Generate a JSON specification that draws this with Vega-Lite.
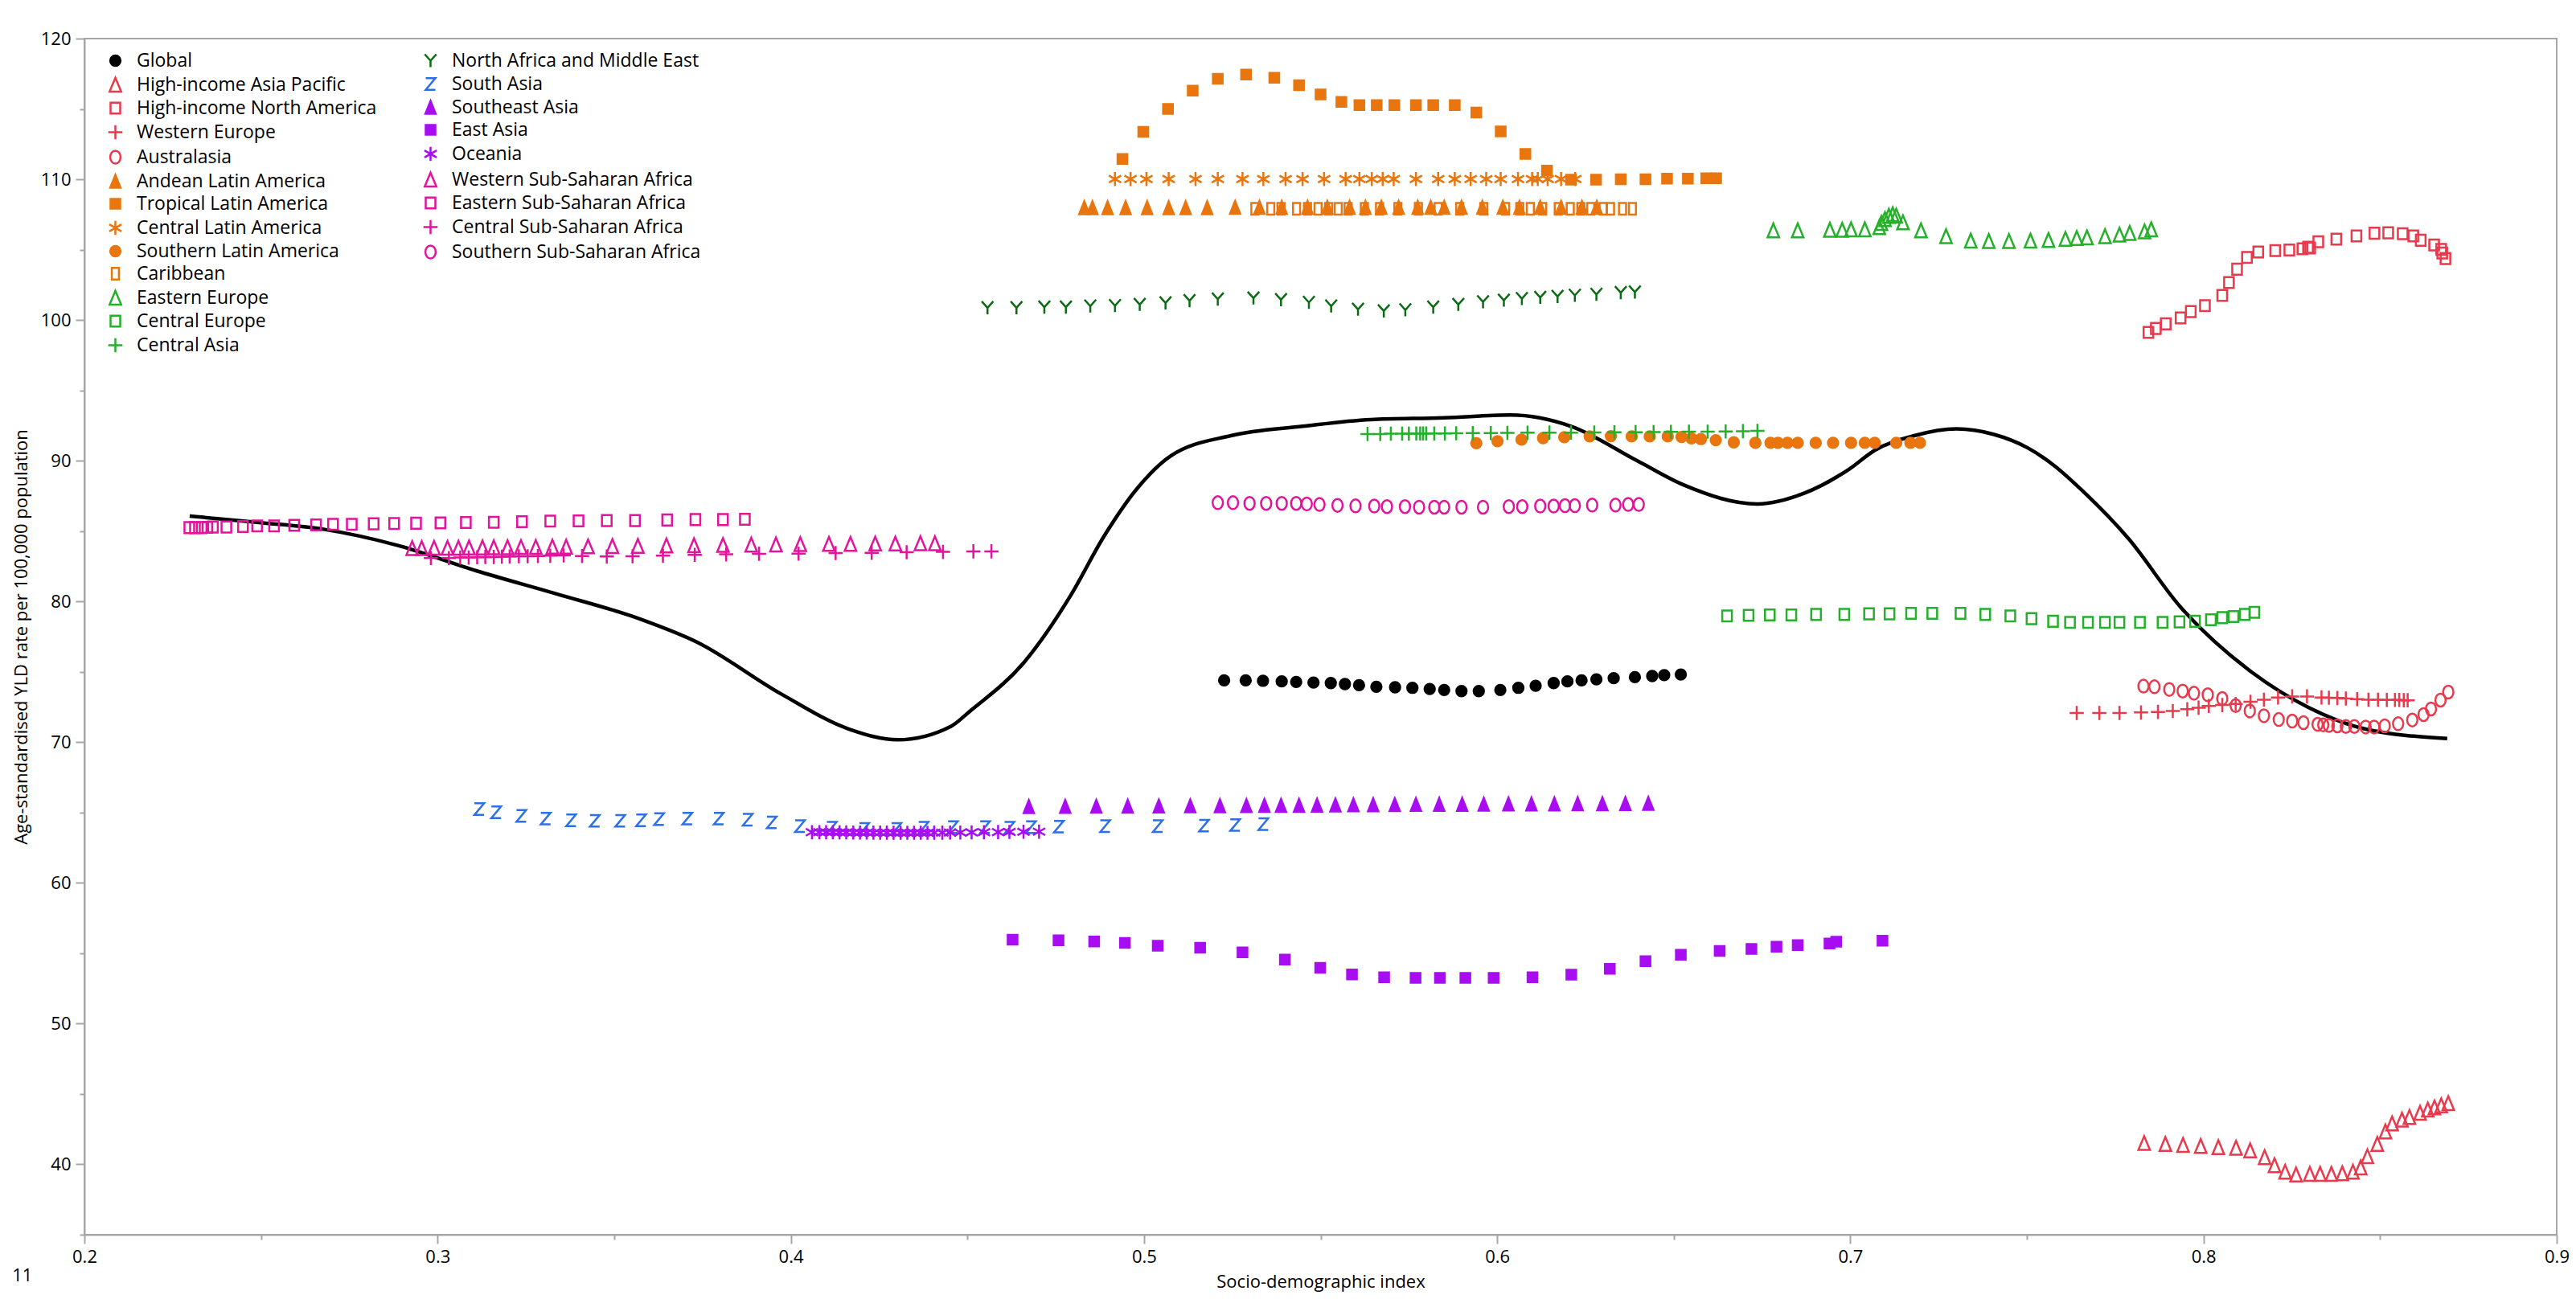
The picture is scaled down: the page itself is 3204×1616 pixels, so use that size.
{
"$schema":"https://vega.github.io/schema/vega-lite/v6.json",
"width":3075,"height":1488,
"autosize":{"type":"none"},
"padding":{"left":105,"top":48,"right":24,"bottom":80},
"title":{"text":"11","orient":"bottom","anchor":"start","frame":"bounds","fontSize":22,"font":"Open Sans","fontWeight":"normal","color":"#000000","offset":-28},
"config":{
 "view":{"stroke":"#a6a6a6","strokeWidth":2},
 "font":"Open Sans",
 "legend":{"orient":"none","padding":0,"labelFontSize":23,"labelFont":"Open Sans","labelColor":"#000000","symbolSize":256,"symbolStrokeWidth":2.5,"rowPadding":3,"labelOffset":15,"symbolOpacity":1,"labelLimit":500}
},
"datasets":{
"curve":[
{"sdi":0.2298,"yld":86.07},{"sdi":0.25,"yld":85.6},{"sdi":0.268,"yld":85.12},{"sdi":0.2888,"yld":83.98},{"sdi":0.3111,"yld":82.17},{"sdi":0.3335,"yld":80.55},{"sdi":0.3575,"yld":78.74},{"sdi":0.3734,"yld":77.12},{"sdi":0.3974,"yld":73.41},{"sdi":0.4165,"yld":70.93},{"sdi":0.4303,"yld":70.17},{"sdi":0.4453,"yld":71.12},{"sdi":0.451,"yld":72.26},{"sdi":0.4661,"yld":75.69},{"sdi":0.4793,"yld":80.45},{"sdi":0.4887,"yld":84.64},{"sdi":0.4982,"yld":88.07},{"sdi":0.5076,"yld":90.35},{"sdi":0.5246,"yld":91.78},{"sdi":0.545,"yld":92.45},{"sdi":0.5642,"yld":92.93},{"sdi":0.585,"yld":93.05},{"sdi":0.6039,"yld":93.25},{"sdi":0.6209,"yld":92.45},{"sdi":0.6398,"yld":89.98},{"sdi":0.653,"yld":88.26},{"sdi":0.6737,"yld":86.93},{"sdi":0.6869,"yld":87.69},{"sdi":0.6997,"yld":89.41},{"sdi":0.7069,"yld":90.74},{"sdi":0.7181,"yld":91.78},{"sdi":0.7301,"yld":92.26},{"sdi":0.7405,"yld":91.88},{"sdi":0.7501,"yld":90.93},{"sdi":0.758,"yld":89.6},{"sdi":0.766,"yld":87.8},{"sdi":0.7788,"yld":84.45},{"sdi":0.7932,"yld":79.69},{"sdi":0.8139,"yld":74.93},{"sdi":0.8299,"yld":72.45},{"sdi":0.8459,"yld":70.93},{"sdi":0.869,"yld":70.26}
],
"pts":[
{"region":"Global","sdi":0.5227,"yld":74.39},{"region":"Global","sdi":0.5288,"yld":74.39},{"region":"Global","sdi":0.5337,"yld":74.36},{"region":"Global","sdi":0.539,"yld":74.32},{"region":"Global","sdi":0.5431,"yld":74.28},{"region":"Global","sdi":0.548,"yld":74.24},{"region":"Global","sdi":0.5529,"yld":74.2},{"region":"Global","sdi":0.5569,"yld":74.13},{"region":"Global","sdi":0.5609,"yld":74.05},{"region":"Global","sdi":0.5658,"yld":73.94},{"region":"Global","sdi":0.5711,"yld":73.9},{"region":"Global","sdi":0.576,"yld":73.86},{"region":"Global","sdi":0.5809,"yld":73.78},{"region":"Global","sdi":0.585,"yld":73.71},{"region":"Global","sdi":0.5899,"yld":73.63},{"region":"Global","sdi":0.5948,"yld":73.63},{"region":"Global","sdi":0.6009,"yld":73.71},{"region":"Global","sdi":0.606,"yld":73.86},{"region":"Global","sdi":0.6109,"yld":74.01},{"region":"Global","sdi":0.616,"yld":74.2},{"region":"Global","sdi":0.6199,"yld":74.32},{"region":"Global","sdi":0.6239,"yld":74.39},{"region":"Global","sdi":0.6281,"yld":74.47},{"region":"Global","sdi":0.633,"yld":74.55},{"region":"Global","sdi":0.639,"yld":74.62},{"region":"Global","sdi":0.6439,"yld":74.7},{"region":"Global","sdi":0.6473,"yld":74.77},{"region":"Global","sdi":0.652,"yld":74.81},
{"region":"High-income Asia Pacific","sdi":0.7832,"yld":41.5},{"region":"High-income Asia Pacific","sdi":0.7892,"yld":41.44},{"region":"High-income Asia Pacific","sdi":0.7942,"yld":41.37},{"region":"High-income Asia Pacific","sdi":0.7992,"yld":41.29},{"region":"High-income Asia Pacific","sdi":0.8042,"yld":41.21},{"region":"High-income Asia Pacific","sdi":0.8092,"yld":41.17},{"region":"High-income Asia Pacific","sdi":0.8132,"yld":40.98},{"region":"High-income Asia Pacific","sdi":0.8173,"yld":40.49},{"region":"High-income Asia Pacific","sdi":0.8201,"yld":39.92},{"region":"High-income Asia Pacific","sdi":0.8231,"yld":39.46},{"region":"High-income Asia Pacific","sdi":0.8262,"yld":39.27},{"region":"High-income Asia Pacific","sdi":0.8301,"yld":39.31},{"region":"High-income Asia Pacific","sdi":0.833,"yld":39.31},{"region":"High-income Asia Pacific","sdi":0.8362,"yld":39.31},{"region":"High-income Asia Pacific","sdi":0.8393,"yld":39.35},{"region":"High-income Asia Pacific","sdi":0.8423,"yld":39.46},{"region":"High-income Asia Pacific","sdi":0.8445,"yld":39.77},{"region":"High-income Asia Pacific","sdi":0.8464,"yld":40.56},{"region":"High-income Asia Pacific","sdi":0.8492,"yld":41.44},{"region":"High-income Asia Pacific","sdi":0.8515,"yld":42.32},{"region":"High-income Asia Pacific","sdi":0.8534,"yld":42.89},{"region":"High-income Asia Pacific","sdi":0.8562,"yld":43.16},{"region":"High-income Asia Pacific","sdi":0.8583,"yld":43.35},{"region":"High-income Asia Pacific","sdi":0.8613,"yld":43.65},{"region":"High-income Asia Pacific","sdi":0.8635,"yld":43.88},{"region":"High-income Asia Pacific","sdi":0.8654,"yld":44.03},{"region":"High-income Asia Pacific","sdi":0.8673,"yld":44.18},{"region":"High-income Asia Pacific","sdi":0.8693,"yld":44.34},
{"region":"High-income North America","sdi":0.7844,"yld":99.12},{"region":"High-income North America","sdi":0.7865,"yld":99.4},{"region":"High-income North America","sdi":0.7893,"yld":99.73},{"region":"High-income North America","sdi":0.7935,"yld":100.15},{"region":"High-income North America","sdi":0.7964,"yld":100.6},{"region":"High-income North America","sdi":0.8004,"yld":101.02},{"region":"High-income North America","sdi":0.8053,"yld":101.75},{"region":"High-income North America","sdi":0.8072,"yld":102.66},{"region":"High-income North America","sdi":0.8095,"yld":103.61},{"region":"High-income North America","sdi":0.8123,"yld":104.45},{"region":"High-income North America","sdi":0.8155,"yld":104.83},{"region":"High-income North America","sdi":0.8203,"yld":104.93},{"region":"High-income North America","sdi":0.8243,"yld":104.98},{"region":"High-income North America","sdi":0.828,"yld":105.06},{"region":"High-income North America","sdi":0.8296,"yld":105.17},{"region":"High-income North America","sdi":0.8302,"yld":105.12},{"region":"High-income North America","sdi":0.8325,"yld":105.56},{"region":"High-income North America","sdi":0.8376,"yld":105.75},{"region":"High-income North America","sdi":0.8433,"yld":105.98},{"region":"High-income North America","sdi":0.8484,"yld":106.17},{"region":"High-income North America","sdi":0.8523,"yld":106.2},{"region":"High-income North America","sdi":0.8564,"yld":106.13},{"region":"High-income North America","sdi":0.8594,"yld":105.98},{"region":"High-income North America","sdi":0.8615,"yld":105.67},{"region":"High-income North America","sdi":0.8653,"yld":105.33},{"region":"High-income North America","sdi":0.8673,"yld":105.02},{"region":"High-income North America","sdi":0.8676,"yld":104.76},{"region":"High-income North America","sdi":0.8685,"yld":104.37},
{"region":"Western Europe","sdi":0.7641,"yld":72.07},{"region":"Western Europe","sdi":0.7705,"yld":72.07},{"region":"Western Europe","sdi":0.7762,"yld":72.07},{"region":"Western Europe","sdi":0.7823,"yld":72.11},{"region":"Western Europe","sdi":0.7871,"yld":72.15},{"region":"Western Europe","sdi":0.7913,"yld":72.22},{"region":"Western Europe","sdi":0.7954,"yld":72.34},{"region":"Western Europe","sdi":0.7986,"yld":72.45},{"region":"Western Europe","sdi":0.8015,"yld":72.57},{"region":"Western Europe","sdi":0.8053,"yld":72.64},{"region":"Western Europe","sdi":0.8091,"yld":72.72},{"region":"Western Europe","sdi":0.8133,"yld":72.87},{"region":"Western Europe","sdi":0.8171,"yld":73.02},{"region":"Western Europe","sdi":0.8211,"yld":73.18},{"region":"Western Europe","sdi":0.8251,"yld":73.25},{"region":"Western Europe","sdi":0.8293,"yld":73.25},{"region":"Western Europe","sdi":0.8334,"yld":73.18},{"region":"Western Europe","sdi":0.8355,"yld":73.16},{"region":"Western Europe","sdi":0.8379,"yld":73.14},{"region":"Western Europe","sdi":0.8403,"yld":73.1},{"region":"Western Europe","sdi":0.8435,"yld":73.06},{"region":"Western Europe","sdi":0.8467,"yld":73.02},{"region":"Western Europe","sdi":0.8494,"yld":73.02},{"region":"Western Europe","sdi":0.8519,"yld":73.0},{"region":"Western Europe","sdi":0.8542,"yld":73.0},{"region":"Western Europe","sdi":0.8554,"yld":73.0},{"region":"Western Europe","sdi":0.8567,"yld":72.98},{"region":"Western Europe","sdi":0.8578,"yld":72.98},
{"region":"Australasia","sdi":0.783,"yld":73.98},{"region":"Australasia","sdi":0.7861,"yld":73.94},{"region":"Australasia","sdi":0.7903,"yld":73.75},{"region":"Australasia","sdi":0.7941,"yld":73.63},{"region":"Australasia","sdi":0.7973,"yld":73.48},{"region":"Australasia","sdi":0.8012,"yld":73.37},{"region":"Australasia","sdi":0.8053,"yld":73.1},{"region":"Australasia","sdi":0.8091,"yld":72.6},{"region":"Australasia","sdi":0.8131,"yld":72.22},{"region":"Australasia","sdi":0.8171,"yld":71.88},{"region":"Australasia","sdi":0.8213,"yld":71.61},{"region":"Australasia","sdi":0.8251,"yld":71.5},{"region":"Australasia","sdi":0.8283,"yld":71.39},{"region":"Australasia","sdi":0.8323,"yld":71.27},{"region":"Australasia","sdi":0.8339,"yld":71.23},{"region":"Australasia","sdi":0.8355,"yld":71.19},{"region":"Australasia","sdi":0.8379,"yld":71.16},{"region":"Australasia","sdi":0.8403,"yld":71.12},{"region":"Australasia","sdi":0.8427,"yld":71.12},{"region":"Australasia","sdi":0.8459,"yld":71.08},{"region":"Australasia","sdi":0.8483,"yld":71.08},{"region":"Australasia","sdi":0.8513,"yld":71.16},{"region":"Australasia","sdi":0.8551,"yld":71.31},{"region":"Australasia","sdi":0.8591,"yld":71.58},{"region":"Australasia","sdi":0.8623,"yld":71.96},{"region":"Australasia","sdi":0.8644,"yld":72.36},{"region":"Australasia","sdi":0.8671,"yld":72.99},{"region":"Australasia","sdi":0.8693,"yld":73.56},
{"region":"Andean Latin America","sdi":0.4831,"yld":107.98},{"region":"Andean Latin America","sdi":0.4854,"yld":107.98},{"region":"Andean Latin America","sdi":0.4897,"yld":107.98},{"region":"Andean Latin America","sdi":0.4948,"yld":107.98},{"region":"Andean Latin America","sdi":0.5009,"yld":107.98},{"region":"Andean Latin America","sdi":0.507,"yld":107.98},{"region":"Andean Latin America","sdi":0.5118,"yld":107.98},{"region":"Andean Latin America","sdi":0.5179,"yld":107.98},{"region":"Andean Latin America","sdi":0.5258,"yld":108.0},{"region":"Andean Latin America","sdi":0.5327,"yld":108.0},{"region":"Andean Latin America","sdi":0.539,"yld":108.0},{"region":"Andean Latin America","sdi":0.5463,"yld":108.0},{"region":"Andean Latin America","sdi":0.5519,"yld":108.0},{"region":"Andean Latin America","sdi":0.5582,"yld":108.0},{"region":"Andean Latin America","sdi":0.5627,"yld":108.0},{"region":"Andean Latin America","sdi":0.5672,"yld":108.0},{"region":"Andean Latin America","sdi":0.5721,"yld":108.0},{"region":"Andean Latin America","sdi":0.5775,"yld":108.0},{"region":"Andean Latin America","sdi":0.5812,"yld":108.0},{"region":"Andean Latin America","sdi":0.585,"yld":108.0},{"region":"Andean Latin America","sdi":0.5899,"yld":108.0},{"region":"Andean Latin America","sdi":0.5958,"yld":108.0},{"region":"Andean Latin America","sdi":0.6016,"yld":108.0},{"region":"Andean Latin America","sdi":0.6063,"yld":108.0},{"region":"Andean Latin America","sdi":0.6122,"yld":108.0},{"region":"Andean Latin America","sdi":0.6181,"yld":108.0},{"region":"Andean Latin America","sdi":0.624,"yld":108.0},{"region":"Andean Latin America","sdi":0.6282,"yld":108.0},
{"region":"Tropical Latin America","sdi":0.4939,"yld":111.44},{"region":"Tropical Latin America","sdi":0.4998,"yld":113.37},{"region":"Tropical Latin America","sdi":0.5068,"yld":115.0},{"region":"Tropical Latin America","sdi":0.5138,"yld":116.3},{"region":"Tropical Latin America","sdi":0.5209,"yld":117.14},{"region":"Tropical Latin America","sdi":0.5289,"yld":117.44},{"region":"Tropical Latin America","sdi":0.5369,"yld":117.21},{"region":"Tropical Latin America","sdi":0.5439,"yld":116.68},{"region":"Tropical Latin America","sdi":0.55,"yld":116.03},{"region":"Tropical Latin America","sdi":0.5559,"yld":115.5},{"region":"Tropical Latin America","sdi":0.561,"yld":115.27},{"region":"Tropical Latin America","sdi":0.5659,"yld":115.27},{"region":"Tropical Latin America","sdi":0.5709,"yld":115.27},{"region":"Tropical Latin America","sdi":0.577,"yld":115.27},{"region":"Tropical Latin America","sdi":0.5819,"yld":115.27},{"region":"Tropical Latin America","sdi":0.588,"yld":115.27},{"region":"Tropical Latin America","sdi":0.5941,"yld":114.74},{"region":"Tropical Latin America","sdi":0.601,"yld":113.4},{"region":"Tropical Latin America","sdi":0.608,"yld":111.8},{"region":"Tropical Latin America","sdi":0.6141,"yld":110.62},{"region":"Tropical Latin America","sdi":0.6209,"yld":109.98},{"region":"Tropical Latin America","sdi":0.628,"yld":109.98},{"region":"Tropical Latin America","sdi":0.635,"yld":110.01},{"region":"Tropical Latin America","sdi":0.642,"yld":110.01},{"region":"Tropical Latin America","sdi":0.6481,"yld":110.05},{"region":"Tropical Latin America","sdi":0.654,"yld":110.05},{"region":"Tropical Latin America","sdi":0.6592,"yld":110.07},{"region":"Tropical Latin America","sdi":0.662,"yld":110.07},
{"region":"Central Latin America","sdi":0.4918,"yld":110.02},{"region":"Central Latin America","sdi":0.4962,"yld":110.02},{"region":"Central Latin America","sdi":0.5007,"yld":110.02},{"region":"Central Latin America","sdi":0.507,"yld":110.02},{"region":"Central Latin America","sdi":0.5146,"yld":110.02},{"region":"Central Latin America","sdi":0.5209,"yld":110.02},{"region":"Central Latin America","sdi":0.5279,"yld":110.02},{"region":"Central Latin America","sdi":0.5338,"yld":110.02},{"region":"Central Latin America","sdi":0.5401,"yld":110.02},{"region":"Central Latin America","sdi":0.5449,"yld":110.02},{"region":"Central Latin America","sdi":0.551,"yld":110.02},{"region":"Central Latin America","sdi":0.5571,"yld":110.02},{"region":"Central Latin America","sdi":0.561,"yld":110.02},{"region":"Central Latin America","sdi":0.5645,"yld":110.02},{"region":"Central Latin America","sdi":0.5676,"yld":110.02},{"region":"Central Latin America","sdi":0.5707,"yld":110.02},{"region":"Central Latin America","sdi":0.577,"yld":110.02},{"region":"Central Latin America","sdi":0.5833,"yld":110.02},{"region":"Central Latin America","sdi":0.588,"yld":110.02},{"region":"Central Latin America","sdi":0.5925,"yld":110.02},{"region":"Central Latin America","sdi":0.5969,"yld":110.02},{"region":"Central Latin America","sdi":0.601,"yld":110.02},{"region":"Central Latin America","sdi":0.6059,"yld":110.02},{"region":"Central Latin America","sdi":0.6099,"yld":110.02},{"region":"Central Latin America","sdi":0.6115,"yld":110.02},{"region":"Central Latin America","sdi":0.6143,"yld":110.02},{"region":"Central Latin America","sdi":0.6181,"yld":110.02},{"region":"Central Latin America","sdi":0.6221,"yld":110.02},
{"region":"Southern Latin America","sdi":0.5941,"yld":91.25},{"region":"Southern Latin America","sdi":0.6001,"yld":91.39},{"region":"Southern Latin America","sdi":0.6069,"yld":91.5},{"region":"Southern Latin America","sdi":0.613,"yld":91.61},{"region":"Southern Latin America","sdi":0.619,"yld":91.67},{"region":"Southern Latin America","sdi":0.6262,"yld":91.73},{"region":"Southern Latin America","sdi":0.6322,"yld":91.75},{"region":"Southern Latin America","sdi":0.6381,"yld":91.73},{"region":"Southern Latin America","sdi":0.6432,"yld":91.73},{"region":"Southern Latin America","sdi":0.6483,"yld":91.73},{"region":"Southern Latin America","sdi":0.6522,"yld":91.69},{"region":"Southern Latin America","sdi":0.655,"yld":91.59},{"region":"Southern Latin America","sdi":0.6577,"yld":91.54},{"region":"Southern Latin America","sdi":0.6619,"yld":91.46},{"region":"Southern Latin America","sdi":0.667,"yld":91.31},{"region":"Southern Latin America","sdi":0.6731,"yld":91.27},{"region":"Southern Latin America","sdi":0.6774,"yld":91.27},{"region":"Southern Latin America","sdi":0.6795,"yld":91.27},{"region":"Southern Latin America","sdi":0.6822,"yld":91.27},{"region":"Southern Latin America","sdi":0.6851,"yld":91.27},{"region":"Southern Latin America","sdi":0.6902,"yld":91.27},{"region":"Southern Latin America","sdi":0.6951,"yld":91.27},{"region":"Southern Latin America","sdi":0.7002,"yld":91.27},{"region":"Southern Latin America","sdi":0.7041,"yld":91.27},{"region":"Southern Latin America","sdi":0.7069,"yld":91.27},{"region":"Southern Latin America","sdi":0.713,"yld":91.27},{"region":"Southern Latin America","sdi":0.717,"yld":91.27},{"region":"Southern Latin America","sdi":0.7197,"yld":91.27},
{"region":"Caribbean","sdi":0.5314,"yld":107.9},{"region":"Caribbean","sdi":0.5359,"yld":107.9},{"region":"Caribbean","sdi":0.5388,"yld":107.9},{"region":"Caribbean","sdi":0.5432,"yld":107.9},{"region":"Caribbean","sdi":0.5463,"yld":107.9},{"region":"Caribbean","sdi":0.5493,"yld":107.9},{"region":"Caribbean","sdi":0.5523,"yld":107.9},{"region":"Caribbean","sdi":0.555,"yld":107.9},{"region":"Caribbean","sdi":0.5578,"yld":107.9},{"region":"Caribbean","sdi":0.5624,"yld":107.9},{"region":"Caribbean","sdi":0.5667,"yld":107.9},{"region":"Caribbean","sdi":0.5719,"yld":107.9},{"region":"Caribbean","sdi":0.5777,"yld":107.9},{"region":"Caribbean","sdi":0.5833,"yld":107.9},{"region":"Caribbean","sdi":0.5894,"yld":107.9},{"region":"Caribbean","sdi":0.5962,"yld":107.9},{"region":"Caribbean","sdi":0.6024,"yld":107.9},{"region":"Caribbean","sdi":0.6064,"yld":107.9},{"region":"Caribbean","sdi":0.6094,"yld":107.9},{"region":"Caribbean","sdi":0.6129,"yld":107.9},{"region":"Caribbean","sdi":0.6173,"yld":107.9},{"region":"Caribbean","sdi":0.6207,"yld":107.9},{"region":"Caribbean","sdi":0.6237,"yld":107.9},{"region":"Caribbean","sdi":0.6265,"yld":107.9},{"region":"Caribbean","sdi":0.63,"yld":107.9},{"region":"Caribbean","sdi":0.6321,"yld":107.9},{"region":"Caribbean","sdi":0.6355,"yld":107.9},{"region":"Caribbean","sdi":0.6383,"yld":107.9},
{"region":"Eastern Europe","sdi":0.6782,"yld":106.36},{"region":"Eastern Europe","sdi":0.6851,"yld":106.36},{"region":"Eastern Europe","sdi":0.6942,"yld":106.4},{"region":"Eastern Europe","sdi":0.6977,"yld":106.4},{"region":"Eastern Europe","sdi":0.7002,"yld":106.43},{"region":"Eastern Europe","sdi":0.7041,"yld":106.43},{"region":"Eastern Europe","sdi":0.7082,"yld":106.59},{"region":"Eastern Europe","sdi":0.7088,"yld":106.89},{"region":"Eastern Europe","sdi":0.7098,"yld":107.16},{"region":"Eastern Europe","sdi":0.7109,"yld":107.39},{"region":"Eastern Europe","sdi":0.712,"yld":107.5},{"region":"Eastern Europe","sdi":0.713,"yld":107.4},{"region":"Eastern Europe","sdi":0.7149,"yld":106.93},{"region":"Eastern Europe","sdi":0.72,"yld":106.36},{"region":"Eastern Europe","sdi":0.7271,"yld":105.94},{"region":"Eastern Europe","sdi":0.7341,"yld":105.63},{"region":"Eastern Europe","sdi":0.7392,"yld":105.6},{"region":"Eastern Europe","sdi":0.7449,"yld":105.6},{"region":"Eastern Europe","sdi":0.751,"yld":105.63},{"region":"Eastern Europe","sdi":0.7561,"yld":105.67},{"region":"Eastern Europe","sdi":0.7609,"yld":105.75},{"region":"Eastern Europe","sdi":0.7641,"yld":105.82},{"region":"Eastern Europe","sdi":0.767,"yld":105.86},{"region":"Eastern Europe","sdi":0.7721,"yld":105.94},{"region":"Eastern Europe","sdi":0.7762,"yld":106.05},{"region":"Eastern Europe","sdi":0.7791,"yld":106.17},{"region":"Eastern Europe","sdi":0.7833,"yld":106.28},{"region":"Eastern Europe","sdi":0.7852,"yld":106.43},
{"region":"Central Europe","sdi":0.6651,"yld":78.97},{"region":"Central Europe","sdi":0.6712,"yld":79.01},{"region":"Central Europe","sdi":0.6772,"yld":79.04},{"region":"Central Europe","sdi":0.6833,"yld":79.04},{"region":"Central Europe","sdi":0.6903,"yld":79.08},{"region":"Central Europe","sdi":0.6983,"yld":79.08},{"region":"Central Europe","sdi":0.7053,"yld":79.12},{"region":"Central Europe","sdi":0.7111,"yld":79.12},{"region":"Central Europe","sdi":0.7172,"yld":79.16},{"region":"Central Europe","sdi":0.7232,"yld":79.16},{"region":"Central Europe","sdi":0.7312,"yld":79.16},{"region":"Central Europe","sdi":0.7382,"yld":79.08},{"region":"Central Europe","sdi":0.7453,"yld":78.97},{"region":"Central Europe","sdi":0.7513,"yld":78.78},{"region":"Central Europe","sdi":0.7574,"yld":78.59},{"region":"Central Europe","sdi":0.7622,"yld":78.51},{"region":"Central Europe","sdi":0.7673,"yld":78.51},{"region":"Central Europe","sdi":0.7721,"yld":78.51},{"region":"Central Europe","sdi":0.7762,"yld":78.51},{"region":"Central Europe","sdi":0.782,"yld":78.51},{"region":"Central Europe","sdi":0.7884,"yld":78.51},{"region":"Central Europe","sdi":0.7932,"yld":78.55},{"region":"Central Europe","sdi":0.7976,"yld":78.59},{"region":"Central Europe","sdi":0.8021,"yld":78.7},{"region":"Central Europe","sdi":0.8053,"yld":78.85},{"region":"Central Europe","sdi":0.8085,"yld":78.93},{"region":"Central Europe","sdi":0.8117,"yld":79.08},{"region":"Central Europe","sdi":0.8144,"yld":79.23},
{"region":"Central Asia","sdi":0.5633,"yld":91.9},{"region":"Central Asia","sdi":0.5669,"yld":91.9},{"region":"Central Asia","sdi":0.5699,"yld":91.92},{"region":"Central Asia","sdi":0.5731,"yld":91.92},{"region":"Central Asia","sdi":0.575,"yld":91.92},{"region":"Central Asia","sdi":0.5771,"yld":91.94},{"region":"Central Asia","sdi":0.5782,"yld":91.94},{"region":"Central Asia","sdi":0.579,"yld":91.94},{"region":"Central Asia","sdi":0.5799,"yld":91.94},{"region":"Central Asia","sdi":0.5822,"yld":91.94},{"region":"Central Asia","sdi":0.5852,"yld":91.94},{"region":"Central Asia","sdi":0.5884,"yld":91.95},{"region":"Central Asia","sdi":0.5931,"yld":91.96},{"region":"Central Asia","sdi":0.5982,"yld":91.97},{"region":"Central Asia","sdi":0.6029,"yld":91.98},{"region":"Central Asia","sdi":0.6086,"yld":91.99},{"region":"Central Asia","sdi":0.6148,"yld":92.0},{"region":"Central Asia","sdi":0.6209,"yld":92.0},{"region":"Central Asia","sdi":0.6275,"yld":92.01},{"region":"Central Asia","sdi":0.6332,"yld":92.02},{"region":"Central Asia","sdi":0.6392,"yld":92.03},{"region":"Central Asia","sdi":0.6443,"yld":92.04},{"region":"Central Asia","sdi":0.6492,"yld":92.05},{"region":"Central Asia","sdi":0.6543,"yld":92.06},{"region":"Central Asia","sdi":0.6596,"yld":92.07},{"region":"Central Asia","sdi":0.6647,"yld":92.08},{"region":"Central Asia","sdi":0.6696,"yld":92.1},{"region":"Central Asia","sdi":0.6737,"yld":92.12},
{"region":"North Africa and Middle East","sdi":0.4557,"yld":100.87},{"region":"North Africa and Middle East","sdi":0.4639,"yld":100.87},{"region":"North Africa and Middle East","sdi":0.4718,"yld":100.91},{"region":"North Africa and Middle East","sdi":0.4779,"yld":100.91},{"region":"North Africa and Middle East","sdi":0.4848,"yld":100.99},{"region":"North Africa and Middle East","sdi":0.4918,"yld":101.02},{"region":"North Africa and Middle East","sdi":0.4988,"yld":101.1},{"region":"North Africa and Middle East","sdi":0.5061,"yld":101.21},{"region":"North Africa and Middle East","sdi":0.5129,"yld":101.37},{"region":"North Africa and Middle East","sdi":0.5209,"yld":101.48},{"region":"North Africa and Middle East","sdi":0.531,"yld":101.56},{"region":"North Africa and Middle East","sdi":0.5388,"yld":101.44},{"region":"North Africa and Middle East","sdi":0.5467,"yld":101.25},{"region":"North Africa and Middle East","sdi":0.553,"yld":100.99},{"region":"North Africa and Middle East","sdi":0.5606,"yld":100.76},{"region":"North Africa and Middle East","sdi":0.5679,"yld":100.64},{"region":"North Africa and Middle East","sdi":0.574,"yld":100.72},{"region":"North Africa and Middle East","sdi":0.5819,"yld":100.91},{"region":"North Africa and Middle East","sdi":0.589,"yld":101.1},{"region":"North Africa and Middle East","sdi":0.596,"yld":101.29},{"region":"North Africa and Middle East","sdi":0.6019,"yld":101.4},{"region":"North Africa and Middle East","sdi":0.607,"yld":101.52},{"region":"North Africa and Middle East","sdi":0.6122,"yld":101.6},{"region":"North Africa and Middle East","sdi":0.6171,"yld":101.67},{"region":"North Africa and Middle East","sdi":0.622,"yld":101.75},{"region":"North Africa and Middle East","sdi":0.6281,"yld":101.82},{"region":"North Africa and Middle East","sdi":0.635,"yld":101.94},{"region":"North Africa and Middle East","sdi":0.639,"yld":101.98},
{"region":"South Asia","sdi":0.3118,"yld":65.25},{"region":"South Asia","sdi":0.3166,"yld":65.02},{"region":"South Asia","sdi":0.3237,"yld":64.76},{"region":"South Asia","sdi":0.3306,"yld":64.57},{"region":"South Asia","sdi":0.3378,"yld":64.45},{"region":"South Asia","sdi":0.3445,"yld":64.41},{"region":"South Asia","sdi":0.3517,"yld":64.41},{"region":"South Asia","sdi":0.3576,"yld":64.45},{"region":"South Asia","sdi":0.3627,"yld":64.53},{"region":"South Asia","sdi":0.3707,"yld":64.57},{"region":"South Asia","sdi":0.3796,"yld":64.57},{"region":"South Asia","sdi":0.3878,"yld":64.49},{"region":"South Asia","sdi":0.3946,"yld":64.3},{"region":"South Asia","sdi":0.4026,"yld":64.03},{"region":"South Asia","sdi":0.4116,"yld":63.92},{"region":"South Asia","sdi":0.4208,"yld":63.84},{"region":"South Asia","sdi":0.4299,"yld":63.84},{"region":"South Asia","sdi":0.4376,"yld":63.92},{"region":"South Asia","sdi":0.4459,"yld":63.96},{"region":"South Asia","sdi":0.455,"yld":63.96},{"region":"South Asia","sdi":0.4619,"yld":63.92},{"region":"South Asia","sdi":0.468,"yld":63.96},{"region":"South Asia","sdi":0.4759,"yld":64.0},{"region":"South Asia","sdi":0.489,"yld":64.03},{"region":"South Asia","sdi":0.5039,"yld":64.03},{"region":"South Asia","sdi":0.517,"yld":64.07},{"region":"South Asia","sdi":0.5258,"yld":64.11},{"region":"South Asia","sdi":0.5338,"yld":64.18},
{"region":"Southeast Asia","sdi":0.4674,"yld":65.42},{"region":"Southeast Asia","sdi":0.4777,"yld":65.43},{"region":"Southeast Asia","sdi":0.4865,"yld":65.44},{"region":"Southeast Asia","sdi":0.4954,"yld":65.45},{"region":"Southeast Asia","sdi":0.5042,"yld":65.46},{"region":"Southeast Asia","sdi":0.5131,"yld":65.47},{"region":"Southeast Asia","sdi":0.5215,"yld":65.48},{"region":"Southeast Asia","sdi":0.529,"yld":65.49},{"region":"Southeast Asia","sdi":0.5341,"yld":65.5},{"region":"Southeast Asia","sdi":0.5388,"yld":65.5},{"region":"Southeast Asia","sdi":0.5439,"yld":65.51},{"region":"Southeast Asia","sdi":0.549,"yld":65.52},{"region":"Southeast Asia","sdi":0.5542,"yld":65.53},{"region":"Southeast Asia","sdi":0.5593,"yld":65.54},{"region":"Southeast Asia","sdi":0.5649,"yld":65.55},{"region":"Southeast Asia","sdi":0.571,"yld":65.56},{"region":"Southeast Asia","sdi":0.577,"yld":65.57},{"region":"Southeast Asia","sdi":0.5836,"yld":65.58},{"region":"Southeast Asia","sdi":0.5901,"yld":65.58},{"region":"Southeast Asia","sdi":0.5962,"yld":65.59},{"region":"Southeast Asia","sdi":0.6032,"yld":65.6},{"region":"Southeast Asia","sdi":0.6097,"yld":65.6},{"region":"Southeast Asia","sdi":0.6162,"yld":65.61},{"region":"Southeast Asia","sdi":0.6228,"yld":65.62},{"region":"Southeast Asia","sdi":0.6298,"yld":65.62},{"region":"Southeast Asia","sdi":0.6363,"yld":65.63},{"region":"Southeast Asia","sdi":0.6428,"yld":65.64},
{"region":"East Asia","sdi":0.4628,"yld":55.96},{"region":"East Asia","sdi":0.4758,"yld":55.92},{"region":"East Asia","sdi":0.4859,"yld":55.84},{"region":"East Asia","sdi":0.4946,"yld":55.73},{"region":"East Asia","sdi":0.5039,"yld":55.54},{"region":"East Asia","sdi":0.5159,"yld":55.39},{"region":"East Asia","sdi":0.5279,"yld":55.06},{"region":"East Asia","sdi":0.5399,"yld":54.55},{"region":"East Asia","sdi":0.5499,"yld":53.97},{"region":"East Asia","sdi":0.5589,"yld":53.5},{"region":"East Asia","sdi":0.568,"yld":53.29},{"region":"East Asia","sdi":0.5769,"yld":53.25},{"region":"East Asia","sdi":0.5838,"yld":53.25},{"region":"East Asia","sdi":0.591,"yld":53.25},{"region":"East Asia","sdi":0.599,"yld":53.25},{"region":"East Asia","sdi":0.61,"yld":53.29},{"region":"East Asia","sdi":0.621,"yld":53.48},{"region":"East Asia","sdi":0.6319,"yld":53.9},{"region":"East Asia","sdi":0.642,"yld":54.43},{"region":"East Asia","sdi":0.652,"yld":54.89},{"region":"East Asia","sdi":0.663,"yld":55.16},{"region":"East Asia","sdi":0.672,"yld":55.31},{"region":"East Asia","sdi":0.6791,"yld":55.46},{"region":"East Asia","sdi":0.6851,"yld":55.58},{"region":"East Asia","sdi":0.6941,"yld":55.69},{"region":"East Asia","sdi":0.696,"yld":55.82},{"region":"East Asia","sdi":0.7091,"yld":55.9},
{"region":"Oceania","sdi":0.406,"yld":63.6},{"region":"Oceania","sdi":0.4081,"yld":63.6},{"region":"Oceania","sdi":0.41,"yld":63.6},{"region":"Oceania","sdi":0.4119,"yld":63.6},{"region":"Oceania","sdi":0.4138,"yld":63.59},{"region":"Oceania","sdi":0.4157,"yld":63.59},{"region":"Oceania","sdi":0.4177,"yld":63.58},{"region":"Oceania","sdi":0.4196,"yld":63.58},{"region":"Oceania","sdi":0.4215,"yld":63.58},{"region":"Oceania","sdi":0.4234,"yld":63.57},{"region":"Oceania","sdi":0.4253,"yld":63.57},{"region":"Oceania","sdi":0.4272,"yld":63.57},{"region":"Oceania","sdi":0.4291,"yld":63.56},{"region":"Oceania","sdi":0.4311,"yld":63.56},{"region":"Oceania","sdi":0.433,"yld":63.56},{"region":"Oceania","sdi":0.4349,"yld":63.56},{"region":"Oceania","sdi":0.4368,"yld":63.56},{"region":"Oceania","sdi":0.4387,"yld":63.56},{"region":"Oceania","sdi":0.4406,"yld":63.57},{"region":"Oceania","sdi":0.4429,"yld":63.57},{"region":"Oceania","sdi":0.4451,"yld":63.58},{"region":"Oceania","sdi":0.448,"yld":63.58},{"region":"Oceania","sdi":0.4512,"yld":63.59},{"region":"Oceania","sdi":0.4547,"yld":63.6},{"region":"Oceania","sdi":0.4587,"yld":63.61},{"region":"Oceania","sdi":0.4619,"yld":63.62},{"region":"Oceania","sdi":0.4659,"yld":63.63},{"region":"Oceania","sdi":0.4703,"yld":63.64},
{"region":"Western Sub-Saharan Africa","sdi":0.2928,"yld":83.78},{"region":"Western Sub-Saharan Africa","sdi":0.2955,"yld":83.78},{"region":"Western Sub-Saharan Africa","sdi":0.299,"yld":83.8},{"region":"Western Sub-Saharan Africa","sdi":0.3028,"yld":83.8},{"region":"Western Sub-Saharan Africa","sdi":0.3059,"yld":83.8},{"region":"Western Sub-Saharan Africa","sdi":0.3089,"yld":83.82},{"region":"Western Sub-Saharan Africa","sdi":0.3127,"yld":83.82},{"region":"Western Sub-Saharan Africa","sdi":0.3159,"yld":83.84},{"region":"Western Sub-Saharan Africa","sdi":0.3198,"yld":83.84},{"region":"Western Sub-Saharan Africa","sdi":0.3236,"yld":83.86},{"region":"Western Sub-Saharan Africa","sdi":0.3278,"yld":83.86},{"region":"Western Sub-Saharan Africa","sdi":0.3325,"yld":83.88},{"region":"Western Sub-Saharan Africa","sdi":0.3364,"yld":83.88},{"region":"Western Sub-Saharan Africa","sdi":0.3426,"yld":83.9},{"region":"Western Sub-Saharan Africa","sdi":0.3495,"yld":83.92},{"region":"Western Sub-Saharan Africa","sdi":0.3567,"yld":83.94},{"region":"Western Sub-Saharan Africa","sdi":0.3648,"yld":83.96},{"region":"Western Sub-Saharan Africa","sdi":0.3726,"yld":83.98},{"region":"Western Sub-Saharan Africa","sdi":0.3808,"yld":84.0},{"region":"Western Sub-Saharan Africa","sdi":0.3888,"yld":84.02},{"region":"Western Sub-Saharan Africa","sdi":0.3958,"yld":84.04},{"region":"Western Sub-Saharan Africa","sdi":0.4027,"yld":84.06},{"region":"Western Sub-Saharan Africa","sdi":0.4108,"yld":84.08},{"region":"Western Sub-Saharan Africa","sdi":0.4169,"yld":84.08},{"region":"Western Sub-Saharan Africa","sdi":0.4239,"yld":84.1},{"region":"Western Sub-Saharan Africa","sdi":0.4296,"yld":84.1},{"region":"Western Sub-Saharan Africa","sdi":0.4367,"yld":84.12},{"region":"Western Sub-Saharan Africa","sdi":0.4408,"yld":84.12},
{"region":"Eastern Sub-Saharan Africa","sdi":0.2297,"yld":85.25},{"region":"Eastern Sub-Saharan Africa","sdi":0.2313,"yld":85.25},{"region":"Eastern Sub-Saharan Africa","sdi":0.2332,"yld":85.25},{"region":"Eastern Sub-Saharan Africa","sdi":0.2348,"yld":85.27},{"region":"Eastern Sub-Saharan Africa","sdi":0.2364,"yld":85.29},{"region":"Eastern Sub-Saharan Africa","sdi":0.2402,"yld":85.29},{"region":"Eastern Sub-Saharan Africa","sdi":0.2449,"yld":85.33},{"region":"Eastern Sub-Saharan Africa","sdi":0.2489,"yld":85.37},{"region":"Eastern Sub-Saharan Africa","sdi":0.2537,"yld":85.37},{"region":"Eastern Sub-Saharan Africa","sdi":0.2594,"yld":85.41},{"region":"Eastern Sub-Saharan Africa","sdi":0.2656,"yld":85.44},{"region":"Eastern Sub-Saharan Africa","sdi":0.2704,"yld":85.48},{"region":"Eastern Sub-Saharan Africa","sdi":0.2757,"yld":85.48},{"region":"Eastern Sub-Saharan Africa","sdi":0.2819,"yld":85.52},{"region":"Eastern Sub-Saharan Africa","sdi":0.2877,"yld":85.54},{"region":"Eastern Sub-Saharan Africa","sdi":0.2939,"yld":85.56},{"region":"Eastern Sub-Saharan Africa","sdi":0.3008,"yld":85.58},{"region":"Eastern Sub-Saharan Africa","sdi":0.308,"yld":85.61},{"region":"Eastern Sub-Saharan Africa","sdi":0.3159,"yld":85.63},{"region":"Eastern Sub-Saharan Africa","sdi":0.3239,"yld":85.67},{"region":"Eastern Sub-Saharan Africa","sdi":0.3319,"yld":85.71},{"region":"Eastern Sub-Saharan Africa","sdi":0.3399,"yld":85.73},{"region":"Eastern Sub-Saharan Africa","sdi":0.3479,"yld":85.75},{"region":"Eastern Sub-Saharan Africa","sdi":0.3559,"yld":85.75},{"region":"Eastern Sub-Saharan Africa","sdi":0.365,"yld":85.79},{"region":"Eastern Sub-Saharan Africa","sdi":0.373,"yld":85.82},{"region":"Eastern Sub-Saharan Africa","sdi":0.3808,"yld":85.82},{"region":"Eastern Sub-Saharan Africa","sdi":0.387,"yld":85.84},
{"region":"Central Sub-Saharan Africa","sdi":0.2981,"yld":83.08},{"region":"Central Sub-Saharan Africa","sdi":0.3032,"yld":83.08},{"region":"Central Sub-Saharan Africa","sdi":0.3064,"yld":83.12},{"region":"Central Sub-Saharan Africa","sdi":0.3088,"yld":83.12},{"region":"Central Sub-Saharan Africa","sdi":0.3112,"yld":83.14},{"region":"Central Sub-Saharan Africa","sdi":0.3135,"yld":83.16},{"region":"Central Sub-Saharan Africa","sdi":0.3159,"yld":83.16},{"region":"Central Sub-Saharan Africa","sdi":0.3182,"yld":83.18},{"region":"Central Sub-Saharan Africa","sdi":0.3204,"yld":83.2},{"region":"Central Sub-Saharan Africa","sdi":0.323,"yld":83.21},{"region":"Central Sub-Saharan Africa","sdi":0.3255,"yld":83.21},{"region":"Central Sub-Saharan Africa","sdi":0.3284,"yld":83.23},{"region":"Central Sub-Saharan Africa","sdi":0.3319,"yld":83.25},{"region":"Central Sub-Saharan Africa","sdi":0.3357,"yld":83.27},{"region":"Central Sub-Saharan Africa","sdi":0.3409,"yld":83.23},{"region":"Central Sub-Saharan Africa","sdi":0.3479,"yld":83.2},{"region":"Central Sub-Saharan Africa","sdi":0.3552,"yld":83.21},{"region":"Central Sub-Saharan Africa","sdi":0.3638,"yld":83.25},{"region":"Central Sub-Saharan Africa","sdi":0.3728,"yld":83.31},{"region":"Central Sub-Saharan Africa","sdi":0.3817,"yld":83.35},{"region":"Central Sub-Saharan Africa","sdi":0.391,"yld":83.39},{"region":"Central Sub-Saharan Africa","sdi":0.4022,"yld":83.4},{"region":"Central Sub-Saharan Africa","sdi":0.4127,"yld":83.44},{"region":"Central Sub-Saharan Africa","sdi":0.4229,"yld":83.46},{"region":"Central Sub-Saharan Africa","sdi":0.4328,"yld":83.5},{"region":"Central Sub-Saharan Africa","sdi":0.4431,"yld":83.52},{"region":"Central Sub-Saharan Africa","sdi":0.4517,"yld":83.56},{"region":"Central Sub-Saharan Africa","sdi":0.4568,"yld":83.56},
{"region":"Southern Sub-Saharan Africa","sdi":0.5209,"yld":87.02},{"region":"Southern Sub-Saharan Africa","sdi":0.5252,"yld":87.02},{"region":"Southern Sub-Saharan Africa","sdi":0.5299,"yld":86.97},{"region":"Southern Sub-Saharan Africa","sdi":0.5346,"yld":86.97},{"region":"Southern Sub-Saharan Africa","sdi":0.539,"yld":86.97},{"region":"Southern Sub-Saharan Africa","sdi":0.5431,"yld":86.97},{"region":"Southern Sub-Saharan Africa","sdi":0.5461,"yld":86.93},{"region":"Southern Sub-Saharan Africa","sdi":0.5497,"yld":86.89},{"region":"Southern Sub-Saharan Africa","sdi":0.5548,"yld":86.83},{"region":"Southern Sub-Saharan Africa","sdi":0.5599,"yld":86.79},{"region":"Southern Sub-Saharan Africa","sdi":0.5652,"yld":86.78},{"region":"Southern Sub-Saharan Africa","sdi":0.5688,"yld":86.74},{"region":"Southern Sub-Saharan Africa","sdi":0.5739,"yld":86.74},{"region":"Southern Sub-Saharan Africa","sdi":0.5779,"yld":86.7},{"region":"Southern Sub-Saharan Africa","sdi":0.5822,"yld":86.7},{"region":"Southern Sub-Saharan Africa","sdi":0.585,"yld":86.7},{"region":"Southern Sub-Saharan Africa","sdi":0.5899,"yld":86.7},{"region":"Southern Sub-Saharan Africa","sdi":0.596,"yld":86.7},{"region":"Southern Sub-Saharan Africa","sdi":0.6033,"yld":86.74},{"region":"Southern Sub-Saharan Africa","sdi":0.6071,"yld":86.74},{"region":"Southern Sub-Saharan Africa","sdi":0.6122,"yld":86.78},{"region":"Southern Sub-Saharan Africa","sdi":0.616,"yld":86.78},{"region":"Southern Sub-Saharan Africa","sdi":0.6192,"yld":86.81},{"region":"Southern Sub-Saharan Africa","sdi":0.622,"yld":86.81},{"region":"Southern Sub-Saharan Africa","sdi":0.6269,"yld":86.85},{"region":"Southern Sub-Saharan Africa","sdi":0.6335,"yld":86.85},{"region":"Southern Sub-Saharan Africa","sdi":0.6371,"yld":86.89},{"region":"Southern Sub-Saharan Africa","sdi":0.6401,"yld":86.89}
]
},
"encoding":{
 "x":{"field":"sdi","type":"quantitative","title":"Socio-demographic index",
  "scale":{"domain":[0.2,0.9],"nice":false,"zero":false},
  "axis":{"values":[0.2,0.25,0.3,0.35,0.4,0.45,0.5,0.55,0.6,0.65,0.7,0.75,0.8,0.85,0.9],
   "labelExpr":"round(datum.value*100) % 10 === 0 ? format(datum.value, '.1f') : ''",
   "tickSize":{"condition":{"test":"round(datum.value*100) % 10 !== 0","value":6},"value":11},
   "grid":false,"domainColor":"#a6a6a6","domainWidth":2,"tickColor":"#a6a6a6","tickWidth":2,
   "labelFontSize":22,"labelFont":"Open Sans","labelColor":"#000000","labelPadding":6,"labelFlush":false,"labelOverlap":false,
   "titleFontSize":22,"titleFont":"Open Sans","titleFontWeight":"normal","titleColor":"#000000","titlePadding":10}},
 "y":{"field":"yld","type":"quantitative","title":"Age-standardised YLD rate per 100,000 population",
  "scale":{"domain":[35,120],"nice":false,"zero":false},
  "axis":{"values":[35,40,45,50,55,60,65,70,75,80,85,90,95,100,105,110,115,120],
   "labelExpr":"datum.value % 10 === 0 ? datum.label : ''",
   "tickSize":{"condition":{"test":"datum.value % 10 !== 0","value":6},"value":11},
   "grid":false,"domainColor":"#a6a6a6","domainWidth":2,"tickColor":"#a6a6a6","tickWidth":2,
   "labelFontSize":22,"labelFont":"Open Sans","labelColor":"#000000","labelPadding":6,"labelFlush":false,"labelOverlap":false,
   "titleFontSize":22,"titleFont":"Open Sans","titleFontWeight":"normal","titleColor":"#000000","titlePadding":12}}
},
"layer":[
 {"data":{"name":"curve"},
  "mark":{"type":"line","color":"#000000","strokeWidth":4.5,"interpolate":"monotone"},
  "encoding":{}},
 {"data":{"name":"pts"},
  "transform":[{"filter":{"field":"region","oneOf":["Global","High-income Asia Pacific","High-income North America","Western Europe","Australasia","Andean Latin America","Tropical Latin America","Central Latin America","Southern Latin America","Caribbean","Eastern Europe","Central Europe","Central Asia"]}}],
  "mark":{"type":"point","size":256,"strokeWidth":2.5,"opacity":1},
  "encoding":{
   "shape":{"field":"region","type":"nominal",
    "scale":{"domain":["Global","High-income Asia Pacific","High-income North America","Western Europe","Australasia","Andean Latin America","Tropical Latin America","Central Latin America","Southern Latin America","Caribbean","Eastern Europe","Central Europe","Central Asia"],
     "range":["M0.8,0A0.8,0.8,0,1,1,-0.8,0A0.8,0.8,0,1,1,0.8,0Z","M0,-1.1L0.9,1.05L-0.9,1.05Z","M-0.75,-0.85L0.75,-0.85L0.75,0.85L-0.75,0.85Z","M-1.1,0L1.1,0M0,-1.1L0,1.1","M0.8,0A0.8,1,0,1,1,-0.8,0A0.8,1,0,1,1,0.8,0Z","M0,-1L0.8,1L-0.8,1Z","M-0.75,-0.75L0.75,-0.75L0.75,0.75L-0.75,0.75Z","M0,-1.1L0,1.1M-0.95,-0.55L0.95,0.55M-0.95,0.55L0.95,-0.55","M0.8,0A0.8,0.8,0,1,1,-0.8,0A0.8,0.8,0,1,1,0.8,0Z","M-0.55,-0.9L0.55,-0.9L0.55,0.9L-0.55,0.9Z","M0,-1.1L0.9,1.05L-0.9,1.05Z","M-0.75,-0.85L0.75,-0.85L0.75,0.85L-0.75,0.85Z","M-1.1,0L1.1,0M0,-1.1L0,1.1"]},
    "legend":{"title":null,"legendX":27,"legendY":16}},
   "fill":{"field":"region","type":"nominal",
    "scale":{"domain":["Global","High-income Asia Pacific","High-income North America","Western Europe","Australasia","Andean Latin America","Tropical Latin America","Central Latin America","Southern Latin America","Caribbean","Eastern Europe","Central Europe","Central Asia"],
     "range":["#000000","transparent","transparent","transparent","transparent","#E8750E","#E8750E","transparent","#E8750E","transparent","transparent","transparent","transparent"]},
    "legend":{"title":null,"legendX":27,"legendY":16}},
   "stroke":{"field":"region","type":"nominal",
    "scale":{"domain":["Global","High-income Asia Pacific","High-income North America","Western Europe","Australasia","Andean Latin America","Tropical Latin America","Central Latin America","Southern Latin America","Caribbean","Eastern Europe","Central Europe","Central Asia"],
     "range":["#000000","#E8394D","#E8394D","#E8394D","#E8394D","#E8750E","#E8750E","#E8750E","#E8750E","#E8750E","#24B02A","#24B02A","#24B02A"]},
    "legend":{"title":null,"legendX":27,"legendY":16}}
  }},
 {"data":{"name":"pts"},
  "transform":[{"filter":{"field":"region","oneOf":["North Africa and Middle East","South Asia","Southeast Asia","East Asia","Oceania","Western Sub-Saharan Africa","Eastern Sub-Saharan Africa","Central Sub-Saharan Africa","Southern Sub-Saharan Africa"]}}],
  "mark":{"type":"point","size":256,"strokeWidth":2.5,"opacity":1},
  "encoding":{
   "shape":{"field":"region","type":"nominal",
    "scale":{"domain":["North Africa and Middle East","South Asia","Southeast Asia","East Asia","Oceania","Western Sub-Saharan Africa","Eastern Sub-Saharan Africa","Central Sub-Saharan Africa","Southern Sub-Saharan Africa"],
     "range":["M-0.9,-1L0,0L0.9,-1M0,0L0,1","M-0.75,-0.9L0.75,-0.9L-0.75,0.9L0.75,0.9","M0,-1L0.8,1L-0.8,1Z","M-0.75,-0.75L0.75,-0.75L0.75,0.75L-0.75,0.75Z","M0,-1.1L0,1.1M-0.95,-0.55L0.95,0.55M-0.95,0.55L0.95,-0.55","M0,-1.1L0.9,1.05L-0.9,1.05Z","M-0.75,-0.85L0.75,-0.85L0.75,0.85L-0.75,0.85Z","M-1.1,0L1.1,0M0,-1.1L0,1.1","M0.8,0A0.8,1,0,1,1,-0.8,0A0.8,1,0,1,1,0.8,0Z"]},
    "legend":{"title":null,"legendX":419,"legendY":16}},
   "fill":{"field":"region","type":"nominal",
    "scale":{"domain":["North Africa and Middle East","South Asia","Southeast Asia","East Asia","Oceania","Western Sub-Saharan Africa","Eastern Sub-Saharan Africa","Central Sub-Saharan Africa","Southern Sub-Saharan Africa"],
     "range":["transparent","transparent","#A80DF2","#A80DF2","transparent","transparent","transparent","transparent","transparent"]},
    "legend":{"title":null,"legendX":419,"legendY":16}},
   "stroke":{"field":"region","type":"nominal",
    "scale":{"domain":["North Africa and Middle East","South Asia","Southeast Asia","East Asia","Oceania","Western Sub-Saharan Africa","Eastern Sub-Saharan Africa","Central Sub-Saharan Africa","Southern Sub-Saharan Africa"],
     "range":["#0A6B12","#2C6FE8","#A80DF2","#A80DF2","#A80DF2","#E2149C","#E2149C","#E2149C","#E2149C"]},
    "legend":{"title":null,"legendX":419,"legendY":16}}
  }}
],
"resolve":{"scale":{"shape":"independent","fill":"independent","stroke":"independent"}}
}
